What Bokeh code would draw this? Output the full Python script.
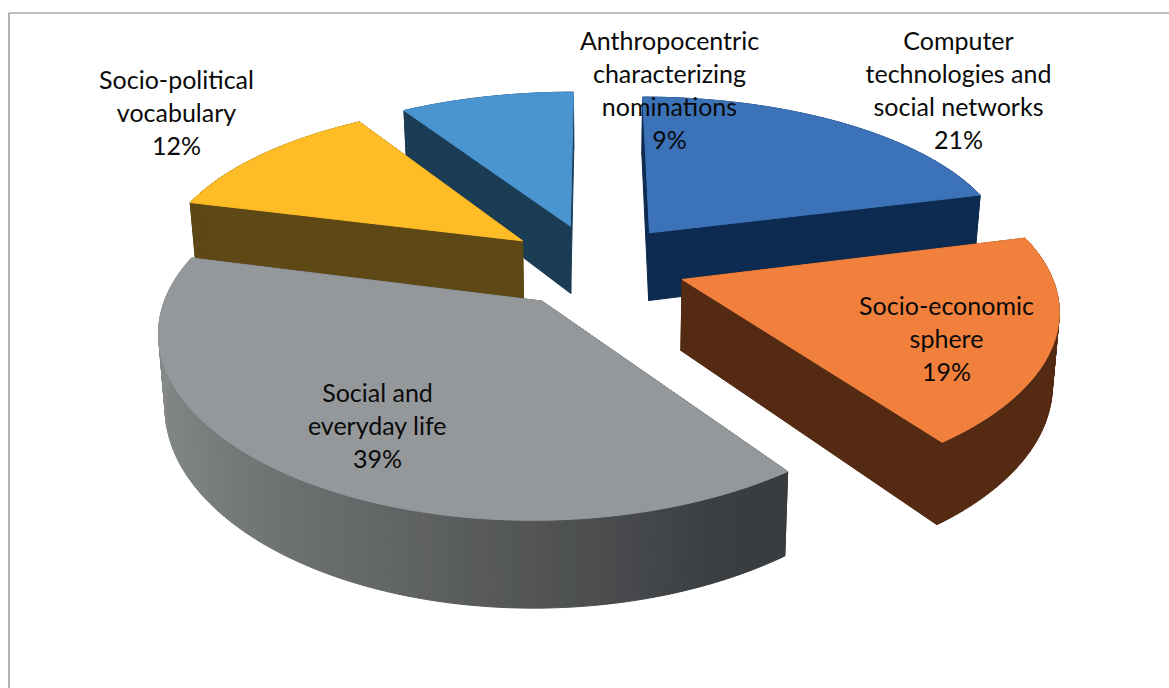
import numpy as np
from bokeh.core.properties import value
from bokeh.embed import file_html
from bokeh.models import ColumnDataSource, Range1d
from bokeh.plotting import figure
from bokeh.resources import INLINE

# Shares in the order they run clockwise from twelve o'clock
names = ["Computer technologies and social networks", "Socio-economic sphere",
         "Social and everyday life", "Socio-political vocabulary",
         "Anthropocentric characterizing nominations"]
shares = [21, 19, 39, 12, 9]
top_colors = ["#3b72b8", "#f0803c", "#95989a", "#febc26", "#4a94d0"]
wall_colors = ["#0d2b50", "#542a12", "#383c3f", "#5e4816", "#1a3c55"]
label_lines = [["Computer", "technologies and", "social networks"],
               ["Socio-economic", "sphere"],
               ["Social and", "everyday life"],
               ["Socio-political", "vocabulary"],
               ["Anthropocentric", "characterizing", "nominations"]]
label_x = [958, 946, 377, 176, 669]
label_top = [39.5, 304.5, 391.5, 78.5, 39.5]

# Camera set-up for the tilted, exploded pie
CX, CY = 594.5, 264.5
RX, RY = 366.0, 168.5
PERSP_X, PERSP_Y = 0.148, 0.1686
EXPLODE = 0.25
DEPTH = 70.0
BASE_SHRINK = 0.985
DRAW_ORDER = [4, 0, 3, 1, 2]

# Shading of the round grey rim, by angle around the pie
rim_angles = [144, 155, 175, 200, 235, 270, 300]
rim_levels = [[56, 60, 63], [58, 62, 65], [78, 80, 82], [99, 102, 103],
              [123, 127, 128], [138, 141, 142], [138, 141, 142]]


def project(wx, wy, lower=False):
    sx = 1.0 / (1.0 - PERSP_X * wy)
    sy = 1.0 / (1.0 - PERSP_Y * wy)
    shrink = BASE_SHRINK if lower else 1.0
    return (CX + RX * wx * sx * shrink,
            CY + RY * wy * sy + (DEPTH * sy if lower else 0.0))


def rim_colour(theta):
    rgb = [np.interp(theta, rim_angles, [lv[i] for lv in rim_levels]) for i in range(3)]
    return "#%02x%02x%02x" % tuple(int(round(c)) for c in rgb)


p = figure(width=1169, height=688, output_backend="svg", toolbar_location=None,
           x_range=Range1d(0, 1169), y_range=Range1d(688, 0),
           min_border=0, outline_line_color=None)
p.axis.visible = False
p.grid.visible = False

# Frame: only the top and left sides are present
p.line([8.5, 8.5, 1169], [688, 12.5, 12.5], line_color="#808080", line_width=1.2)

edges = np.cumsum([0] + shares) * 3.6
for i in DRAW_ORDER:
    start, stop = edges[i], edges[i + 1]
    mid = np.radians((start + stop) / 2)
    ox, oy = EXPLODE * np.sin(mid), -EXPLODE * np.cos(mid)
    angles = np.linspace(start, stop, max(int(stop - start), 2) + 1)
    wx = np.r_[ox, ox + np.sin(np.radians(angles))]
    wy = np.r_[oy, oy - np.cos(np.radians(angles))]
    tx, ty = project(wx, wy)
    bx, by = project(wx, wy, lower=True)

    # Side walls first, then the rim strips, then the lid
    qx, qy, qc = [], [], []
    for a, b in [(0, 1), (0, len(wx) - 1)]:
        qx.append([tx[a], tx[b], bx[b], bx[a]])
        qy.append([ty[a], ty[b], by[b], by[a]])
        qc.append(wall_colors[i])
    for k in range(1, len(wx) - 1):
        qx.append([tx[k], tx[k + 1], bx[k + 1], bx[k]])
        qy.append([ty[k], ty[k + 1], by[k + 1], by[k]])
        qc.append(rim_colour((angles[k - 1] + angles[k]) / 2) if names[i].startswith("Social") else wall_colors[i])
    p.patches("x", "y", fill_color="c", line_color="c", line_width=1,
              source=ColumnDataSource(dict(x=qx, y=qy, c=qc)))
    p.patch(list(tx), list(ty), fill_color=top_colors[i], line_color=top_colors[i], line_width=1)

# Category names with their percentages
tx_x, tx_y, tx_s = [], [], []
for lines, x0, y0, share in zip(label_lines, label_x, label_top, shares):
    for n, line in enumerate(lines + [f"{share}%"]):
        tx_x.append(x0)
        tx_y.append(y0 + n * 33)
        tx_s.append(line)
p.text("x", "y", "s", source=ColumnDataSource(dict(x=tx_x, y=tx_y, s=tx_s)),
       text_font=value("Lato"), text_font_size="25px", text_color="#0a0a0a",
       text_align="center", text_baseline="middle")

open("out.html", "w").write(file_html(p, INLINE))
